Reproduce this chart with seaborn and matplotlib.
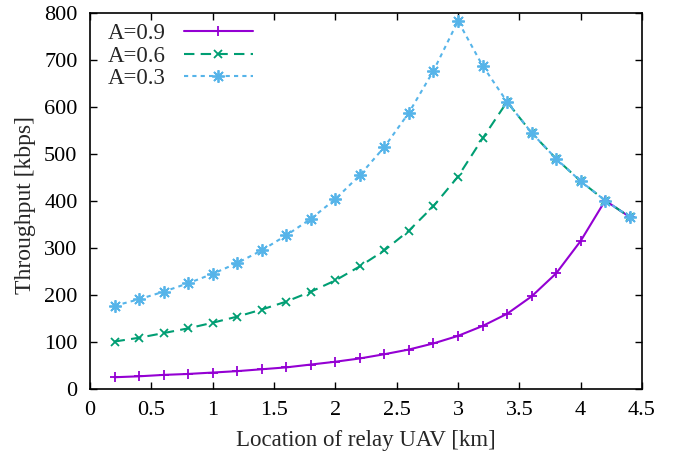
import numpy as np
import pandas as pd
import matplotlib
matplotlib.use("Agg")
import matplotlib.pyplot as plt
import seaborn as sns

# relay location [km]
location = [0.2, 0.4, 0.6, 0.8, 1.0, 1.2, 1.4, 1.6, 1.8, 2.0, 2.2,
            2.4, 2.6, 2.8, 3.0, 3.2, 3.4, 3.6, 3.8, 4.0, 4.2, 4.4]

# throughput [kbps]
thr_09 = [25, 27, 30, 32, 35, 38, 42, 46, 52, 58, 65,
          74, 84, 97, 113, 134, 160, 197, 246, 315, 401, 366]
thr_06 = [101, 109, 119, 129, 141, 154, 169, 186, 207, 231, 261,
          295, 337, 389, 452, 533, 611, 545, 490, 442, 401, 366]
thr_03 = [177, 191, 207, 225, 245, 268, 295, 327, 362, 404, 455,
          515, 588, 677, 783, 688, 611, 545, 490, 442, 401, 366]

labels = ["A=0.9", "A=0.6", "A=0.3"]
colors = ["#9400D3", "#009E73", "#56B4E9"]
styles = ["-", (0, (5, 3)), (0, (2, 2))]
markers = ["+", "x", (8, 2, 0)]
msizes = [7, 6, 9]

df = pd.DataFrame({
    "loc": location * 3,
    "thr": thr_09 + thr_06 + thr_03,
    "A": [labels[0]] * len(location) + [labels[1]] * len(location) + [labels[2]] * len(location),
})

sns.set_theme(style="ticks")
plt.rcParams['font.family'] = ['Liberation Serif', 'DejaVu Serif']

fig = plt.figure(figsize=(6.84, 4.61), dpi=100)
ax = fig.add_axes([0.1316, 0.1562, 0.807, 0.8156])

# one call per series so the line-art markers keep the line colour
for lab, c, ls, mk, ms in zip(labels, colors, styles, markers, msizes):
    sub = df[df["A"] == lab]
    sns.lineplot(data=sub, x="loc", y="thr", ax=ax, color=c, linestyle=ls,
                 marker=mk, markersize=ms, markeredgewidth=1.3, markeredgecolor=c,
                 linewidth=1.5, label=lab, estimator=None, sort=False)

ax.set_xlim(0, 4.5)
ax.set_ylim(0, 800)
ax.set_xticks(np.arange(0, 4.51, 0.5))
ax.set_xticklabels(["0", "0.5", "1", "1.5", "2", "2.5", "3", "3.5", "4", "4.5"])
ax.set_yticks(np.arange(0, 801, 100))
ax.tick_params(direction="in", top=True, right=True, labelsize=16, length=5,
               width=1, colors="black", pad=9)
for s in ax.spines.values():
    s.set_color("black")
    s.set_linewidth(1.2)
    s.set_visible(True)

ax.set_xlabel("Location of relay UAV [km]", fontsize=16.5, labelpad=7)
ax.set_ylabel("Throughput [kbps]", fontsize=17)
ax.yaxis.set_label_coords(-0.098, 0.49)

ax.legend(loc="upper left", frameon=False, markerfirst=False, fontsize=16.5,
          handlelength=3.0, handletextpad=0.8, labelspacing=0.05,
          borderaxespad=0.0, borderpad=0.45, bbox_to_anchor=(0.013, 1.0))

fig.savefig("out.png", dpi=100)
